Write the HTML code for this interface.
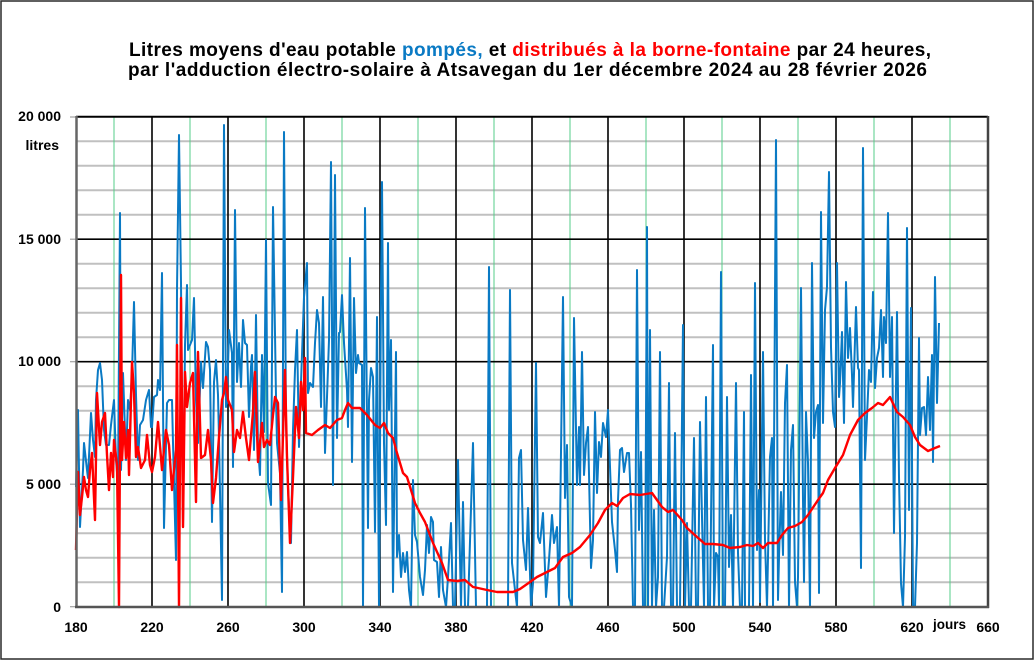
<!DOCTYPE html>
<html><head><meta charset="utf-8"><style>
html,body{margin:0;padding:0;background:#fff;}
svg{display:block;}
text{font-family:"Liberation Sans",Arial,sans-serif;font-weight:bold;}
</style></head><body>
<svg width="1035" height="661" viewBox="0 0 1035 661" xmlns="http://www.w3.org/2000/svg">
<rect x="0" y="0" width="1035" height="661" fill="#fff"/>
<rect x="1" y="1" width="1032" height="658" fill="none" stroke="#2a2a2a" stroke-width="1.5"/>
<text x="129" y="56" font-size="19" textLength="802" lengthAdjust="spacing" fill="#000">Litres moyens d'eau potable <tspan fill="#0a7ac4">pompés,</tspan> et <tspan fill="#ff0000">distribués à la borne-fontaine</tspan> par 24 heures,</text>
<text x="128" y="76" font-size="19" textLength="799" lengthAdjust="spacing" fill="#000">par l'adduction électro-solaire à Atsavegan du 1er décembre 2024 au 28 février 2026</text>
<g stroke="#c0c0c0" stroke-width="2">
<line x1="76" x2="988" y1="582.2" y2="582.2"/><line x1="76" x2="988" y1="557.7" y2="557.7"/><line x1="76" x2="988" y1="533.2" y2="533.2"/><line x1="76" x2="988" y1="508.7" y2="508.7"/>
<line x1="76" x2="988" y1="459.7" y2="459.7"/><line x1="76" x2="988" y1="435.2" y2="435.2"/><line x1="76" x2="988" y1="410.7" y2="410.7"/><line x1="76" x2="988" y1="386.2" y2="386.2"/>
<line x1="76" x2="988" y1="337.2" y2="337.2"/><line x1="76" x2="988" y1="312.7" y2="312.7"/><line x1="76" x2="988" y1="288.2" y2="288.2"/><line x1="76" x2="988" y1="263.7" y2="263.7"/>
<line x1="76" x2="988" y1="214.7" y2="214.7"/><line x1="76" x2="988" y1="190.2" y2="190.2"/><line x1="76" x2="988" y1="165.7" y2="165.7"/><line x1="76" x2="988" y1="141.2" y2="141.2"/>
</g>
<g stroke="#55cc88" stroke-width="1">
<line x1="114" x2="114" y1="117" y2="606"/><line x1="190" x2="190" y1="117" y2="606"/><line x1="266" x2="266" y1="117" y2="606"/><line x1="342" x2="342" y1="117" y2="606"/><line x1="418" x2="418" y1="117" y2="606"/><line x1="494" x2="494" y1="117" y2="606"/><line x1="570" x2="570" y1="117" y2="606"/><line x1="646" x2="646" y1="117" y2="606"/><line x1="722" x2="722" y1="117" y2="606"/><line x1="798" x2="798" y1="117" y2="606"/><line x1="874" x2="874" y1="117" y2="606"/><line x1="950" x2="950" y1="117" y2="606"/>
</g>
<g stroke="#000" stroke-width="1.6">
<line x1="152" x2="152" y1="117" y2="606"/><line x1="228" x2="228" y1="117" y2="606"/><line x1="304" x2="304" y1="117" y2="606"/><line x1="380" x2="380" y1="117" y2="606"/><line x1="456" x2="456" y1="117" y2="606"/><line x1="532" x2="532" y1="117" y2="606"/><line x1="608" x2="608" y1="117" y2="606"/><line x1="684" x2="684" y1="117" y2="606"/><line x1="760" x2="760" y1="117" y2="606"/><line x1="836" x2="836" y1="117" y2="606"/><line x1="912" x2="912" y1="117" y2="606"/>
<line x1="76" x2="988" y1="239.2" y2="239.2"/><line x1="76" x2="988" y1="361.7" y2="361.7"/><line x1="76" x2="988" y1="484.2" y2="484.2"/>
<line x1="76" x2="988" y1="117" y2="117"/>
</g>
<g stroke="#a0a0a0" stroke-width="1.2">
<line x1="70" x2="76" y1="117" y2="117"/><line x1="70" x2="76" y1="239.2" y2="239.2"/><line x1="70" x2="76" y1="361.7" y2="361.7"/><line x1="70" x2="76" y1="484.2" y2="484.2"/><line x1="70" x2="76" y1="606.7" y2="606.7"/>
</g>
<polyline fill="none" stroke="#0a7ac4" stroke-width="2" stroke-linejoin="round" points="76,487 78,410 80,527 83,470 84,443 87,470 88,478 91,413 93,440 95,457 96,400 98,370 100,363 102,380 104,430 106,445 109,445 111,425 114,400 116,460 118,485 120,213 121,470 123,373 125,430 126,460 128,400 130,410 132,373 134,302 136,395 138,460 140,425 143,420 146,400 149,390 151,427 152,427 154,397 157,395 158,380 160,390 162,273 164,528 167,403 169,400 172,400 173,443 176,560 177,290 179,135 181,283 183,527 185,345 187,285 188,350 192,340 194,298 196,400 198,443 201,362 203,388 206,342 208,347 210,370 212,522 214,382 216,360 218,395 219,438 222,600 224,125 226,407 227,403 229,330 232,353 233,467 235,210 237,382 239,343 241,387 243,320 245,343 247,345 249,417 251,367 252,355 254,450 256,315 258,447 260,475 262,355 264,432 266,240 268,483 271,505 273,207 276,397 277,443 280,473 282,592 284,132 286,423 288,488 291,543 293,430 295,370 297,330 299,447 301,383 304,297 307,263 308,393 310,383 313,387 315,343 317,310 319,323 321,407 323,297 325,453 327,397 329,340 331,162 333,485 335,175 337,438 339,333 340,332 342,295 344,343 347,390 348,427 350,258 352,462 354,298 356,373 358,355 359,363 362,365 363,607 365,208 368,528 369,400 371,368 373,377 375,532 377,317 379,607 381,292 382,182 384,443 386,525 388,243 389,410 391,340 393,592 396,352 397,557 399,535 401,577 403,553 405,572 407,552 409,590 411,607 413,480 415,535 417,542 420,577 423,595 425,570 427,525 429,553 431,517 433,522 434,560 437,562 439,597 441,547 443,590 446,607 448,577 451,523 453,607 455,607 458,460 461,607 463,502 465,607 468,607 473,443 476,607 480,607 487,607 489,267 491,607 497,607 503,607 508,607 510,290 512,563 515,590 517,607 519,458 521,450 523,540 526,570 528,508 531,607 533,583 536,363 538,537 540,543 543,513 546,597 549,560 552,515 554,543 557,527 559,607 563,297 565,498 567,445 569,597 572,607 574,318 577,485 579,427 580,485 582,352 584,475 586,443 588,427 591,568 593,540 595,412 597,493 599,442 601,457 603,423 606,437 608,410 610,467 612,522 615,550 617,572 618,500 620,450 622,448 624,472 627,453 629,453 631,505 633,607 635,607 637,270 639,530 641,452 643,607 645,607 647,227 648,607 650,330 652,607 654,510 656,607 658,577 660,352 662,607 664,607 667,557 669,383 671,607 673,607 675,433 677,607 680,607 683,325 685,607 687,523 689,607 691,607 694,438 696,607 698,607 700,422 702,517 704,607 706,397 708,607 710,607 713,345 714,607 716,553 718,557 719,607 721,272 723,607 725,607 727,397 729,567 731,515 733,607 736,383 738,553 740,607 742,607 744,412 745,607 747,607 749,607 751,375 753,607 755,283 757,550 759,490 760,602 763,352 765,540 767,607 770,457 772,438 773,607 776,140 778,600 779,557 781,492 783,555 785,403 787,365 789,607 791,450 793,425 795,582 797,607 798,577 801,288 803,500 804,582 806,412 808,463 810,607 812,263 814,438 816,412 818,405 819,593 821,212 823,423 825,310 827,287 829,172 831,347 833,412 835,427 837,263 839,397 840,383 842,332 844,423 846,282 848,358 850,328 852,375 853,407 856,307 858,368 859,370 861,568 863,148 865,460 867,417 869,370 871,382 873,292 875,388 877,358 879,348 881,310 883,377 884,317 886,343 888,213 890,377 892,317 894,533 897,312 899,477 901,583 903,607 905,537 907,228 909,510 911,308 913,607 915,607 917,543 919,338 920,435 922,408 924,407 926,435 928,377 930,430 932,355 933,462 935,277 937,403 939,323"/>
<polyline fill="none" stroke="#ff0000" stroke-width="2.4" stroke-linejoin="round" points="76,550 78,472 80,515 82,497 84,477 86,490 88,497 90,470 92,453 95,520 97,393 100,445 102,422 105,413 107,455 109,490 111,453 113,477 114,440 117,465 119,607 121,275 122,460 124,422 126,458 128,430 129,475 132,362 134,393 136,457 138,447 141,468 145,460 147,435 150,465 152,472 155,457 158,422 162,470 166,430 169,445 172,490 176,450 177,345 179,607 181,298 183,527 185,372 187,407 190,383 193,373 196,502 198,352 201,458 205,455 208,430 211,460 213,503 216,478 219,437 222,400 224,393 226,377 228,400 232,410 234,452 237,430 240,438 243,412 246,438 249,460 253,412 255,372 258,462 262,423 264,447 267,440 270,445 273,415 275,397 278,403 281,500 285,370 287,457 290,543 293,477 296,407 299,438 301,382 303,410 305,358 306,433 312,435 318,430 325,425 330,428 337,420 342,418 345,410 348,403 352,408 360,408 367,415 375,425 380,428 384,423 388,433 393,438 397,453 403,473 407,477 415,503 420,513 425,522 433,543 442,563 448,580 457,581 465,580 473,587 478,588 487,590 497,592 507,592 513,592 520,589 530,582 537,577 547,572 555,568 563,557 572,553 580,547 590,535 598,523 605,510 612,503 617,506 623,498 630,494 640,495 652,493 662,507 668,512 673,510 682,520 687,528 697,537 705,544 713,544 723,545 730,548 740,547 747,545 753,546 758,543 763,548 768,543 777,543 782,535 788,528 795,526 802,522 808,515 818,500 823,493 828,480 835,468 843,455 850,435 858,420 865,413 872,408 878,403 883,405 890,397 897,412 903,417 910,425 915,437 920,445 928,451 935,448 940,446"/>
<line x1="76" x2="988" y1="116.5" y2="116.5" stroke="#000" stroke-width="1.5"/>
<line x1="76.5" x2="76.5" y1="116" y2="608" stroke="#666" stroke-width="2.5"/>
<line x1="988" x2="988" y1="116" y2="608" stroke="#444" stroke-width="2.5"/>
<line x1="75" x2="989" y1="607" y2="607" stroke="#555" stroke-width="2.5"/>
<g font-size="14" fill="#000" text-anchor="end">
<text x="61" y="121">20 000</text>
<text x="59" y="150">litres</text>
<text x="61" y="244">15 000</text>
<text x="61" y="366">10 000</text>
<text x="61" y="489">5 000</text>
<text x="61" y="612">0</text>
</g>
<g font-size="14" fill="#000" text-anchor="middle">
<text x="76" y="632">180</text><text x="152" y="632">220</text><text x="228" y="632">260</text><text x="304" y="632">300</text><text x="380" y="632">340</text><text x="456" y="632">380</text><text x="532" y="632">420</text><text x="608" y="632">460</text><text x="684" y="632">500</text><text x="760" y="632">540</text><text x="836" y="632">580</text><text x="912" y="632">620</text><text x="988" y="632">660</text>
</g>
<text x="933" y="629" font-size="13.5" fill="#000">jours</text>
</svg>
</body></html>
